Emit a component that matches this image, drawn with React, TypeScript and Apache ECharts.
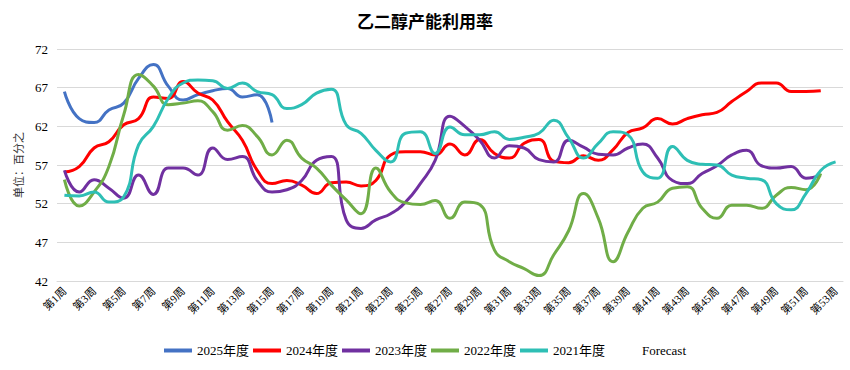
import React, { useEffect, useRef } from "react";
import * as echarts from "echarts";

const weeks: string[] = Array.from({ length: 53 }, (_, i) => `第${i + 1}周`);

const yTicks = { min: 42, max: 72, step: 5 };

const s2025: (number | null)[] = [
  66.5, 63.0, 62.5, 64.1, 65.0, 68.2, 70.0, 67.2, 65.4, 66.1, 66.6, 66.9, 65.8, 66.1, 62.5,
];

const s2024: (number | null)[] = [
  56.1, 56.8, 59.2, 60.0, 62.2, 63.0, 65.8, 65.6, 67.8, 66.3, 65.4, 62.6, 60.2, 56.3, 54.6,
  55.0, 54.4, 53.3, 54.7, 54.8, 54.3, 55.0, 58.3, 58.7, 58.7, 58.3, 59.7, 58.3, 60.3, 58.5,
  57.9, 59.8, 60.3, 57.5, 57.3, 58.2, 57.6, 59.0, 61.2, 61.8, 63.0, 62.3, 63.0, 63.5, 63.8,
  65.2, 66.5, 67.6, 67.6, 66.5, 66.5, 66.6,
];

const s2023: (number | null)[] = [
  56.3, 53.5, 55.1, 54.0, 52.7, 55.7, 53.2, 56.6, 56.6, 55.7, 59.2, 57.7, 58.1, 55.0, 53.5,
  53.8, 55.0, 57.6, 58.1, 49.9, 48.8, 49.9, 50.7, 52.2, 54.6, 57.6, 63.3, 62.0, 60.2, 57.9,
  59.5, 59.2, 57.7, 57.4, 60.2, 59.3, 58.4, 58.3, 59.2, 59.7, 57.9, 55.0, 54.6, 55.9, 56.9,
  58.3, 58.9, 56.9, 56.6, 56.8, 55.3, 55.7,
];

const s2022: (number | null)[] = [
  55.1, 51.7, 53.5, 56.8, 63.5, 68.7, 67.2, 64.8, 65.0, 65.3, 63.9, 61.5, 62.1, 60.7, 58.3,
  60.2, 57.9, 56.6, 54.4, 52.5, 50.7, 56.6, 53.5, 52.1, 51.9, 52.4, 50.1, 52.2, 51.9, 46.0,
  44.5, 43.6, 42.7, 45.4, 48.5, 53.3, 50.1, 44.5, 48.3, 51.4, 52.2, 54.0, 54.2, 51.4, 50.1,
  51.8, 51.8, 51.4, 53.1, 54.1, 53.8, 55.9,
];

const s2021: (number | null)[] = [
  53.1, 53.0, 53.5, 52.2, 52.9, 59.6, 62.0, 65.6, 67.6, 68.0, 67.9, 66.9, 67.6, 66.5, 66.1,
  64.3, 64.8, 66.3, 66.8, 62.2, 61.1, 58.9, 57.4, 61.1, 61.3, 58.5, 61.9, 60.9, 60.9, 61.3,
  60.3, 60.6, 61.1, 62.8, 60.5, 57.9, 59.8, 61.3, 60.9, 56.1, 55.3, 59.4, 57.6, 57.1, 57.0,
  55.7, 55.3, 55.1, 52.0, 51.2, 53.3, 56.3, 57.4,
];

const seriesNames = ["2025年度", "2024年度", "2023年度", "2022年度", "2021年度", "Forecast"];
const seriesColors = ["#4472C4", "#FF0000", "#7030A0", "#70AD47", "#2EBFB5", "rgba(0,0,0,0)"];
const seriesData = [s2025, s2024, s2023, s2022, s2021, [] as (number | null)[]];

const SERIF = "'Liberation Serif', 'Times New Roman', 'Noto Sans CJK SC', serif";

export default function App() {
  const ref = useRef<HTMLDivElement>(null);
  useEffect(() => {
    if (!ref.current) return;
    const chart = echarts.init(ref.current, undefined, { renderer: "svg" });
    chart.setOption({
      animation: false,
      backgroundColor: "#ffffff",
      title: {
        text: "乙二醇产能利用率",
        left: "center",
        top: 7,
        textStyle: {
          fontFamily: "'Noto Sans CJK SC', sans-serif",
          fontSize: 17,
          fontWeight: "bold",
          color: "#000000",
        },
      },
      grid: { left: 57, right: 7, top: 49, bottom: 89, containLabel: false },
      legend: {
        bottom: 8,
        left: "center",
        itemWidth: 28,
        itemHeight: 4,
        itemGap: 4,
        icon: "rect",
        data: seriesNames,
        textStyle: { fontFamily: SERIF, fontSize: 13, color: "#000000" },
      },
      xAxis: {
        type: "category",
        data: weeks,
        boundaryGap: true,
        axisLine: { show: true, lineStyle: { color: "#D9D9D9" } },
        axisTick: { show: false },
        axisLabel: {
          interval: 1,
          rotate: 45,
          fontFamily: SERIF,
          fontSize: 11,
          color: "#000000",
          margin: 8,
        },
      },
      yAxis: {
        type: "value",
        min: yTicks.min,
        max: yTicks.max,
        interval: yTicks.step,
        name: "单位：百分之",
        nameLocation: "middle",
        nameRotate: 90,
        nameGap: 34,
        nameTextStyle: { fontFamily: "'Noto Sans CJK SC', sans-serif", fontSize: 11, color: "#333333" },
        axisLine: { show: false },
        axisTick: { show: false },
        splitLine: { lineStyle: { color: "#D9D9D9", width: 1 } },
        axisLabel: { fontFamily: SERIF, fontSize: 13, color: "#000000", margin: 9 },
      },
      series: seriesNames.map((name, i) => ({
        name,
        type: "line",
        data: seriesData[i],
        smooth: 0.5,
        symbol: "none",
        color: seriesColors[i],
        lineStyle: { width: 3, color: seriesColors[i] },
      })),
    });
    return () => chart.dispose();
  }, []);
  return (
    <div
      ref={ref}
      style={{ position: "fixed", left: 0, top: 0, width: 850, height: 370, background: "#fff" }}
    />
  );
}
